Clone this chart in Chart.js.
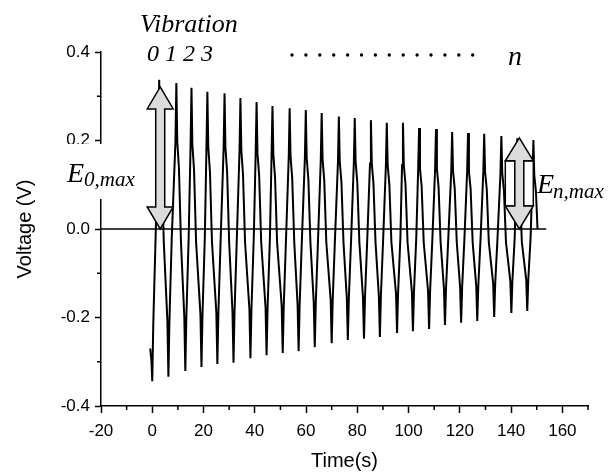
<!DOCTYPE html>
<html>
<head>
<meta charset="utf-8">
<script src="https://cdn.jsdelivr.net/npm/chart.js@4/dist/chart.umd.min.js"></script>
<style>
  body { margin: 0; background: #fff; }
  canvas { display: block; }
</style>
</head>
<body>
<canvas id="myChart" width="609" height="473"></canvas>
<script>
// signal samples, one line per vibration (time in s)
const timeS = [
  -0.8, -0.3,
  0.0, 0.4, 1.3, 2.35, 2.7, 3.05, 3.7, 4.5, 5.9,
  6.3, 6.7, 7.6, 9.05, 9.4, 9.75, 10.4, 11.2, 12.5,
  12.9, 13.3, 14.2, 14.95, 15.3, 15.65, 16.3, 17.1, 18.8,
  19.2, 19.6, 20.5, 21.15, 21.5, 21.85, 22.5, 23.3, 25.0,
  25.4, 25.8, 26.7, 27.85, 28.2, 28.55, 29.2, 30.0, 31.3,
  31.7, 32.1, 33.0, 34.05, 34.4, 34.75, 35.4, 36.2, 37.9,
  38.3, 38.7, 39.6, 40.35, 40.7, 41.05, 41.7, 42.5, 44.2,
  44.6, 45.0, 45.9, 46.55, 46.9, 47.25, 47.9, 48.7, 50.5,
  50.9, 51.3, 52.2, 53.25, 53.6, 53.95, 54.6, 55.4, 56.7,
  57.1, 57.5, 58.4, 59.55, 59.9, 60.25, 60.9, 61.7, 63.0,
  63.4, 63.8, 64.7, 65.75, 66.1, 66.45, 67.1, 67.9, 69.6,
  70.0, 70.4, 71.3, 72.45, 72.8, 73.15, 73.8, 74.6, 75.9,
  76.3, 76.7, 77.6, 78.65, 79.0, 79.35, 80.0, 80.8, 82.2,
  82.6, 83.0, 83.9, 84.95, 85.3, 85.65, 86.3, 87.1, 88.4,
  88.8, 89.2, 90.1, 91.15, 91.5, 91.85, 92.5, 93.3, 95.1,
  95.5, 95.9, 96.8, 97.45, 97.8, 98.15, 98.8, 99.6, 101.3,
  101.7, 102.1, 103.0, 103.75, 104.1, 104.45, 105.1, 105.9, 107.6,
  108.0, 108.4, 109.3, 110.35, 110.7, 111.05, 111.7, 112.5, 113.8,
  114.2, 114.6, 115.5, 116.65, 117.0, 117.35, 118.0, 118.8, 120.1,
  120.5, 120.9, 121.8, 122.85, 123.2, 123.55, 124.2, 125.0, 126.4,
  126.8, 127.2, 128.1, 129.15, 129.5, 129.85, 130.5, 131.3, 133.0,
  133.4, 133.8, 134.7, 135.85, 136.2, 136.55, 137.2, 138.0, 139.7,
  140.1, 140.5, 141.4, 142.05, 142.4, 142.75, 143.4, 144.2, 145.9,
  146.3, 146.7, 147.6, 148.35, 148.7, 149.05, 149.7, 150.3
];
// voltage in V
const voltageV = [
  -0.27, -0.30,
  -0.344, -0.213, -0.02, 0.202, 0.337, 0.202, 0.142, -0.03, -0.207,
  -0.334, -0.207, -0.02, 0.198, 0.330, 0.198, 0.139, -0.03, -0.199,
  -0.321, -0.199, -0.02, 0.191, 0.319, 0.191, 0.134, -0.03, -0.193,
  -0.312, -0.193, -0.02, 0.186, 0.310, 0.186, 0.130, -0.03, -0.189,
  -0.305, -0.189, -0.02, 0.184, 0.307, 0.184, 0.129, -0.03, -0.187,
  -0.302, -0.187, -0.02, 0.178, 0.296, 0.178, 0.124, -0.03, -0.181,
  -0.292, -0.181, -0.02, 0.172, 0.287, 0.172, 0.121, -0.03, -0.177,
  -0.285, -0.177, -0.02, 0.167, 0.278, 0.167, 0.117, -0.03, -0.174,
  -0.280, -0.174, -0.02, 0.164, 0.273, 0.164, 0.115, -0.03, -0.171,
  -0.276, -0.171, -0.02, 0.161, 0.269, 0.161, 0.113, -0.03, -0.166,
  -0.267, -0.166, -0.02, 0.157, 0.262, 0.157, 0.110, -0.03, -0.160,
  -0.258, -0.160, -0.02, 0.152, 0.254, 0.152, 0.107, -0.03, -0.156,
  -0.251, -0.156, -0.02, 0.151, 0.251, 0.151, 0.105, -0.03, -0.154,
  -0.248, -0.154, -0.02, 0.148, 0.246, 0.148, 0.103, -0.03, -0.151,
  -0.244, -0.151, -0.02, 0.144, 0.240, 0.144, 0.101, -0.03, -0.146,
  -0.235, -0.146, -0.02, 0.144, 0.240, 0.144, 0.101, -0.03, -0.143,
  -0.231, -0.143, -0.02, 0.137, 0.228, 0.137, 0.096, -0.03, -0.140,
  -0.226, -0.140, -0.02, 0.136, 0.226, 0.136, 0.095, -0.03, -0.135,
  -0.217, -0.135, -0.02, 0.131, 0.219, 0.131, 0.092, -0.03, -0.131,
  -0.212, -0.131, -0.02, 0.130, 0.217, 0.130, 0.091, -0.03, -0.129,
  -0.208, -0.129, -0.02, 0.129, 0.215, 0.129, 0.090, -0.03, -0.123,
  -0.199, -0.123, -0.02, 0.126, 0.210, 0.126, 0.088, -0.03, -0.118,
  -0.190, -0.118, -0.02, 0.123, 0.205, 0.123, 0.086, -0.03, -0.115,
  -0.185, -0.115, -0.02, 0.121, 0.201, 0.121, 0.084, 0.0
];
// horizontal reference line at 0 V
const zeroLineT = [-20, 153.7];
const zeroLineV = [0, 0];
// double arrows: E0,max and En,max (time, top voltage, bottom voltage)
const arrowT = [3.1, 143.2];
const arrowTop = [0.321, 0.206];
const arrowBottom = [0, 0];
// minor tick values
const xMinor = [-10, 10, 30, 50, 70, 90, 110, 130, 150, 170];
const yMinor = [-0.3, -0.1, 0.1, 0.3];

const signal = timeS.map((t, i) => ({x: t, y: voltageV[i]}));
const zeroLine = zeroLineT.map((t, i) => ({x: t, y: zeroLineV[i]}));

function arrowPath(ctx, cx, yTop, yBot, headHalf, headLen, shaftHalf) {
  ctx.beginPath();
  ctx.moveTo(cx, yTop);
  ctx.lineTo(cx + headHalf, yTop + headLen);
  ctx.lineTo(cx + shaftHalf, yTop + headLen);
  ctx.lineTo(cx + shaftHalf, yBot - headLen);
  ctx.lineTo(cx + headHalf, yBot - headLen);
  ctx.lineTo(cx, yBot);
  ctx.lineTo(cx - headHalf, yBot - headLen);
  ctx.lineTo(cx - shaftHalf, yBot - headLen);
  ctx.lineTo(cx - shaftHalf, yTop + headLen);
  ctx.lineTo(cx - headHalf, yTop + headLen);
  ctx.closePath();
  ctx.fillStyle = '#dcdcdc';
  ctx.fill();
  ctx.strokeStyle = '#000';
  ctx.lineWidth = 1.5;
  ctx.stroke();
}

const extras = {
  id: 'extras',
  afterDraw(chart) {
    const ctx = chart.ctx;
    const xs = chart.scales.x, ys = chart.scales.y;
    ctx.save();
    // minor ticks
    ctx.strokeStyle = '#000';
    ctx.lineWidth = 1.5;
    const y0 = ys.bottom, x0 = xs.left;
    xMinor.forEach(v => {
      const px = xs.getPixelForValue(v);
      ctx.beginPath(); ctx.moveTo(px, y0); ctx.lineTo(px, y0 + 4); ctx.stroke();
    });
    yMinor.forEach(v => {
      const py = ys.getPixelForValue(v);
      ctx.beginPath(); ctx.moveTo(x0, py); ctx.lineTo(x0 - 4, py); ctx.stroke();
    });

    // white box behind E0,max
    ctx.fillStyle = '#fff';
    ctx.fillRect(55, 144, 85, 55);

    // right arrow with its white frame
    const rx = xs.getPixelForValue(arrowT[1]);
    const rTop = ys.getPixelForValue(arrowTop[1]);
    const rBot = ys.getPixelForValue(arrowBottom[1]);
    ctx.fillStyle = '#fff';
    ctx.fillRect(rx - 14, rTop + 23, 28, rBot - rTop - 46);
    ctx.strokeStyle = '#000';
    ctx.lineWidth = 1.5;
    ctx.strokeRect(rx - 14, rTop + 23, 28, rBot - rTop - 46);
    arrowPath(ctx, rx, rTop, rBot, 14, 23, 4.5);

    // left arrow
    const lx = xs.getPixelForValue(arrowT[0]);
    arrowPath(ctx, lx, ys.getPixelForValue(arrowTop[0]), ys.getPixelForValue(arrowBottom[0]), 13, 22, 4.5);

    // texts
    ctx.fillStyle = '#000';
    ctx.textBaseline = 'alphabetic';
    ctx.textAlign = 'left';
    ctx.font = 'italic 26px "Liberation Serif"';
    ctx.fillText('Vibration', 140, 32);
    ctx.font = 'italic 24px "Liberation Serif"';
    ctx.fillText('0 1 2 3', 147, 61);
    ctx.font = 'italic 28px "Liberation Serif"';
    ctx.fillText('n', 508, 65);
    for (let i = 0; i < 14; i++) {
      ctx.beginPath();
      ctx.arc(292 + i * 13.9, 55, 1.7, 0, Math.PI * 2);
      ctx.fill();
    }
    ctx.font = 'italic 28px "Liberation Serif"';
    ctx.fillText('E', 67, 182);
    ctx.fillText('E', 537, 193);
    ctx.font = 'italic 21px "Liberation Serif"';
    ctx.fillText('0,max', 84, 186);
    ctx.fillText('n,max', 553, 198);
    ctx.restore();
  }
};

new Chart('myChart', {
  type: 'line',
  data: {
    datasets: [{
      data: signal,
      borderColor: '#000',
      borderWidth: 2,
      pointRadius: 0,
      tension: 0,
      fill: false
    }, {
      data: zeroLine,
      borderColor: '#000',
      borderWidth: 1.5,
      pointRadius: 0,
      fill: false
    }]
  },
  options: {
    responsive: false,
    animation: false,
    events: [],
    layout: { padding: { left: 0, right: 21, top: 52, bottom: 0 } },
    plugins: { legend: { display: false }, tooltip: { enabled: false } },
    scales: {
      x: {
        type: 'linear',
        min: -20,
        max: 170,
        afterFit(scale) { scale.height = 67; },
        border: { display: true, color: '#000', width: 1.5 },
        grid: { drawOnChartArea: false, drawTicks: true, tickLength: 7, tickColor: '#000', tickWidth: 1.5 },
        ticks: {
          stepSize: 20,
          includeBounds: false,
          color: '#000',
          padding: 8,
          maxRotation: 0,
          font: { family: '"Liberation Sans", Arial', size: 17 }
        },
        title: {
          display: true,
          text: 'Time(s)',
          color: '#000',
          padding: 0,
          font: { family: '"Liberation Sans", Arial', size: 20, lineHeight: 1.2 }
        }
      },
      y: {
        min: -0.4,
        max: 0.4,
        afterFit(scale) { scale.width = 101; },
        border: { display: true, color: '#000', width: 1.5 },
        grid: { drawOnChartArea: false, drawTicks: true, tickLength: 6, tickColor: '#000', tickWidth: 1.5 },
        ticks: {
          stepSize: 0.2,
          color: '#000',
          padding: 5,
          font: { family: '"Liberation Sans", Arial', size: 17 },
          callback: v => Math.abs(v) < 1e-9 ? '0.0' : v.toFixed(1)
        },
        title: {
          display: true,
          text: 'Voltage (V)',
          color: '#000',
          padding: { top: 13, bottom: 0 },
          font: { family: '"Liberation Sans", Arial', size: 20, lineHeight: 1.2 }
        }
      }
    }
  },
  plugins: [extras]
});
</script>
</body>
</html>
